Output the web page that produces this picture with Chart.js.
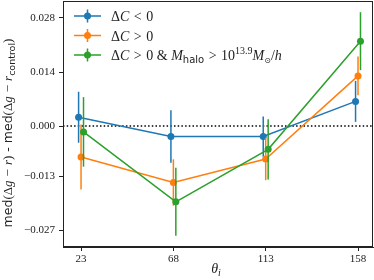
<!DOCTYPE html>
<html>
<head>
<meta charset="utf-8">
<script src="https://cdn.jsdelivr.net/npm/chart.js@4.4.0/dist/chart.umd.min.js"></script>
<style>
    html, body { margin: 0; padding: 0; background: #fff; }
    #wrap { width: 374px; height: 280px; }
</style>
</head>
<body>
<div id="wrap"><canvas id="chart" width="374" height="280"></canvas></div>
<script>
// theta bins and the small horizontal shift used per series
const thetaBins = [23, 68, 113, 158];
const shift = [-1.2, 0, 1.2];

// medians and error bar half widths
const medNeg = [0.0023, -0.0027, -0.0027, 0.0064];
const errNeg = [0.0066, 0.0068, 0.0052, 0.0053];
const medPos = [-0.0080, -0.0146, -0.0085, 0.0130];
const errPos = [0.0084, 0.0060, 0.0055, 0.0050];
const medHalo = [-0.0015, -0.0196, -0.0060, 0.0220];
const errHalo = [0.0090, 0.0088, 0.0078, 0.0075];

const yTicks = [-0.027, -0.013, 0, 0.014, 0.028];

const SERIF = "'Liberation Serif', serif";
const SANS = "'DejaVu Sans', sans-serif";
const INK = "#222";

function pts( med, k ) {
    return thetaBins.map( ( t, i ) => ( { x: t + shift[k], y: med[i] } ) );
}

// draw a run of text pieces with their own fonts and baseline shifts,
// { sp: n } pieces are plain gaps of n px
function partWidth( ctx, p ) {
    if ( p.sp ) return p.sp;
    ctx.font = p.f;
    return ctx.measureText( p.t ).width;
}
function drawRich( ctx, parts, x, y, align ) {
    let total = 0;
    parts.forEach( p => { total += partWidth( ctx, p ); } );
    let cx = align === "center" ? x - total / 2 : x;
    ctx.textBaseline = "alphabetic";
    ctx.textAlign = "left";
    parts.forEach( p => {
        if ( !p.sp ) {
            ctx.font = p.f;
            ctx.fillText( p.t, cx, y + ( p.dy || 0 ) );
        }
        cx += partWidth( ctx, p );
    } );
}

const rm = "14px " + SERIF;
const it = "italic 14px " + SERIF;
const gap = { sp: 4.5 };

const legendItems = [
    { color: "#1f77b4", parts: [ { t: "Δ", f: rm }, { t: "C", f: it }, gap, { t: "<", f: rm }, gap, { t: "0", f: rm } ] },
    { color: "#ff7f0e", parts: [ { t: "Δ", f: rm }, { t: "C", f: it }, gap, { t: ">", f: rm }, gap, { t: "0", f: rm } ] },
    { color: "#2ca02c", parts: [
        { t: "Δ", f: rm }, { t: "C", f: it }, gap, { t: ">", f: rm }, gap, { t: "0 & ", f: rm }, { t: "M", f: it },
        { t: "halo", f: "10px " + SANS, dy: 3 }, gap, { t: ">", f: rm }, gap, { t: "10", f: rm },
        { t: "13.9", f: "10px " + SERIF, dy: -6 }, { t: "M", f: it },
        { t: "⊙", f: "8px " + SANS, dy: 3 }, { t: "/", f: rm }, { t: "h", f: it }
    ] }
];

const decorations = {
    id: "decorations",
    beforeDatasetsDraw( chart ) {
        const ctx = chart.ctx;
        const a = chart.chartArea;
        const y0 = chart.scales.y.getPixelForValue( 0 );
        ctx.save();
        ctx.strokeStyle = "#000";
        ctx.lineWidth = 1.5;
        ctx.setLineDash( [1.5, 2.2] );
        ctx.beginPath();
        ctx.moveTo( a.left, y0 );
        ctx.lineTo( a.right, y0 );
        ctx.stroke();
        ctx.restore();
    },
    beforeDatasetDraw( chart, args ) {
        // error bars go under their own line and markers
        const ds = chart.data.datasets[args.index];
        const ctx = chart.ctx;
        const xs = chart.scales.x, ys = chart.scales.y;
        ctx.save();
        ctx.strokeStyle = ds.borderColor;
        ctx.lineWidth = 1.5;
        ds.data.forEach( ( p, i ) => {
            const px = xs.getPixelForValue( p.x );
            ctx.beginPath();
            ctx.moveTo( px, ys.getPixelForValue( p.y - ds.err[i] ) );
            ctx.lineTo( px, ys.getPixelForValue( p.y + ds.err[i] ) );
            ctx.stroke();
        } );
        ctx.restore();
    },
    afterDraw( chart ) {
        const ctx = chart.ctx;
        const a = chart.chartArea;
        ctx.save();
        // frame
        ctx.strokeStyle = INK;
        ctx.lineWidth = 1;
        ctx.strokeRect( a.left + 0.5, a.top + 0.5, a.right - a.left - 1, a.bottom - a.top - 1 );

        // legend
        legendItems.forEach( ( item, k ) => {
            const ly = 16 + k * 19.5;
            ctx.strokeStyle = item.color;
            ctx.fillStyle = item.color;
            ctx.lineWidth = 1.5;
            ctx.beginPath();
            ctx.moveTo( 74, ly );
            ctx.lineTo( 101, ly );
            ctx.moveTo( 87.5, ly - 6.5 );
            ctx.lineTo( 87.5, ly + 6.5 );
            ctx.stroke();
            ctx.beginPath();
            ctx.arc( 87.5, ly, 3.5, 0, Math.PI * 2 );
            ctx.fill();
            ctx.fillStyle = INK;
            drawRich( ctx, item.parts, 111, ly + 5, "left" );
        } );

        // axis titles
        ctx.fillStyle = INK;
        drawRich( ctx, [ { t: "θ", f: it }, { t: "i", f: "italic 10px " + SERIF, dy: 3 } ], 216, 273, "center" );

        ctx.translate( 12, 133 );
        ctx.rotate( -Math.PI / 2 );
        const s = "12.5px " + SANS;
        const lr = "13px " + SERIF, li = "italic 13px " + SERIF;
        const lg = { sp: 4 };
        drawRich( ctx, [
            { t: "med", f: s }, { t: "(Δ", f: lr }, { t: "g", f: li }, lg, { t: "−", f: lr }, lg,
            { t: "r", f: li }, { t: ")", f: lr }, { t: " - ", f: s }, { t: "med", f: s },
            { t: "(Δ", f: lr }, { t: "g", f: li }, lg, { t: "−", f: lr }, lg, { t: "r", f: li },
            { t: "control", f: "9.5px " + SANS, dy: 3 }, { t: ")", f: lr }
        ], 0, 0, "center" );
        ctx.restore();
    }
};

function series( label, med, err, color, k, order ) {
    return {
        label: label,
        data: pts( med, k ),
        err: err,
        borderColor: color,
        backgroundColor: color,
        borderWidth: 1.5,
        pointRadius: 3.5,
        pointBorderWidth: 0,
        pointBackgroundColor: color,
        showLine: true,
        tension: 0,
        order: order
    };
}

new Chart( document.getElementById( "chart" ).getContext( "2d" ), {
    type: "scatter",
    data: {
        datasets: [
            series( "dC < 0", medNeg, errNeg, "#1f77b4", 0, 3 ),
            series( "dC > 0", medPos, errPos, "#ff7f0e", 1, 2 ),
            series( "dC > 0 & halo", medHalo, errHalo, "#2ca02c", 2, 1 )
        ]
    },
    options: {
        responsive: false,
        animation: false,
        layout: { autoPadding: false, padding: { top: 1, right: 1, left: 0, bottom: 0 } },
        plugins: { legend: { display: false }, tooltip: { enabled: false } },
        scales: {
            x: {
                type: "linear",
                min: 14.2,
                max: 165.3,
                afterBuildTicks: scale => { scale.ticks = thetaBins.map( v => ( { value: v } ) ); },
                afterFit: scale => {
                    scale.height = 33;
                    scale.paddingLeft = 0;
                    scale.paddingRight = 0;
                },
                ticks: {
                    font: { family: SERIF, size: 11 },
                    color: INK,
                    padding: 2,
                    maxRotation: 0,
                    callback: v => String( v )
                },
                grid: { drawOnChartArea: false, tickLength: 4, color: INK },
                border: { color: INK }
            },
            y: {
                min: -0.0313,
                max: 0.0324,
                afterBuildTicks: scale => { scale.ticks = yTicks.map( v => ( { value: v } ) ); },
                afterFit: scale => {
                    scale.width = 63;
                    scale.paddingTop = 0;
                    scale.paddingBottom = 0;
                },
                ticks: {
                    font: { family: SERIF, size: 11 },
                    color: INK,
                    padding: 4,
                    callback: v => ( v < 0 ? "−" : "" ) + Math.abs( v ).toFixed( 3 )
                },
                grid: { drawOnChartArea: false, tickLength: 4, color: INK },
                border: { color: INK }
            }
        }
    },
    plugins: [decorations]
} );
</script>
</body>
</html>
